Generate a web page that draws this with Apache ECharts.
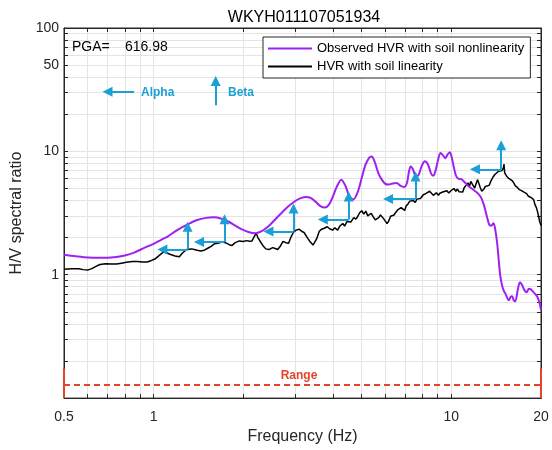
<!DOCTYPE html>
<html><head><meta charset="utf-8">
<script src="https://cdn.jsdelivr.net/npm/echarts@6/dist/echarts.min.js"></script>
<style>html,body{margin:0;padding:0;background:#fff}#c{width:552px;height:450px}</style>
</head><body><div id="c"></div>
<script>
const titleText = 'WKYH011107051934';
const pgaLabel = 'PGA=';
const pgaValue = '616.98';
const seriesNames = ['Observed HVR with soil nonlinearity', 'HVR with soil linearity'];

const freqNonlin = [0.50,0.55,0.60,0.65,0.70,0.75,0.80,0.86,0.93,1.00,1.06,1.11,1.20,1.31,1.40,1.50,1.59,1.68,1.78,1.88,1.98,2.08,2.19,2.30,2.42,2.55,2.70,2.85,3.00,3.12,3.25,3.38,3.50,3.62,3.76,3.88,4.00,4.12,4.27,4.40,4.55,4.69,4.85,5.00,5.15,5.30,5.40,5.52,5.68,5.84,6.00,6.15,6.35,6.55,6.75,6.95,7.10,7.20,7.30,7.42,7.60,7.75,7.95,8.15,8.35,8.55,8.70,8.85,9.05,9.20,9.40,9.55,9.70,9.88,10.0,10.15,10.35,10.55,10.8,11.1,11.4,11.7,12.0,12.3,12.6,12.85,13.1,13.4,13.6,13.85,14.05,14.25,14.45,14.6,14.8,15.0,15.2,15.45,15.6,15.8,16.0,16.2,16.4,16.7,17.0,17.3,17.6,17.9,18.2,18.5,18.8,19.1,19.4,19.7,20.0];
const hvrNonlin = [1.45,1.41,1.38,1.37,1.37,1.39,1.43,1.51,1.65,1.78,1.92,2.03,2.30,2.58,2.78,2.89,2.92,2.86,2.70,2.50,2.33,2.22,2.17,2.25,2.45,2.78,3.20,3.62,3.98,4.18,4.27,4.18,3.90,3.62,3.50,3.70,4.30,5.15,5.90,5.30,4.30,4.08,4.70,6.10,7.80,8.90,9.10,8.30,6.70,5.90,5.45,5.38,5.50,5.55,5.25,5.15,5.60,6.80,7.55,7.20,6.30,6.40,7.60,8.30,7.80,6.60,6.35,7.00,8.80,9.70,9.20,8.80,9.40,9.85,9.20,7.80,6.40,6.00,5.95,5.60,5.25,5.00,4.77,4.55,4.20,3.70,3.10,2.55,2.50,2.62,2.30,1.80,1.25,0.98,0.82,0.74,0.70,0.64,0.62,0.66,0.67,0.62,0.61,0.75,0.87,0.82,0.75,0.72,0.77,0.76,0.73,0.70,0.67,0.61,0.52];

const freqLin = [0.50,0.53,0.56,0.58,0.60,0.62,0.64,0.66,0.69,0.72,0.75,0.78,0.81,0.85,0.88,0.92,0.95,0.98,1.01,1.04,1.08,1.11,1.14,1.18,1.22,1.25,1.29,1.34,1.37,1.40,1.44,1.48,1.52,1.56,1.60,1.64,1.70,1.74,1.79,1.83,1.88,1.94,2.00,2.05,2.10,2.14,2.18,2.21,2.24,2.28,2.33,2.38,2.44,2.51,2.56,2.61,2.67,2.72,2.78,2.84,2.90,2.95,3.01,3.08,3.14,3.20,3.29,3.36,3.43,3.48,3.53,3.60,3.67,3.74,3.83,3.90,3.99,4.06,4.15,4.22,4.32,4.38,4.46,4.52,4.60,4.70,4.78,4.85,4.92,5.00,5.08,5.16,5.24,5.30,5.38,5.46,5.55,5.62,5.70,5.78,5.84,5.92,6.00,6.08,6.15,6.25,6.33,6.42,6.50,6.60,6.70,6.78,6.88,6.97,7.05,7.15,7.25,7.35,7.45,7.56,7.66,7.76,7.87,7.95,8.05,8.20,8.32,8.45,8.55,8.70,8.80,8.90,9.05,9.15,9.27,9.40,9.52,9.66,9.80,9.95,10.06,10.2,10.35,10.48,10.62,10.75,10.92,11.05,11.2,11.37,11.5,11.62,11.85,11.98,12.1,12.25,12.34,12.5,12.65,12.86,13.0,13.2,13.39,13.6,13.8,14.0,14.2,14.4,14.6,14.8,14.95,15.02,15.1,15.3,15.5,15.7,15.99,16.2,16.4,16.66,16.9,17.2,17.59,17.9,18.1,18.32,18.6,18.9,19.09,19.3,19.5,19.61,19.8,20.0];
const hvrLin = [1.11,1.12,1.12,1.10,1.09,1.12,1.17,1.21,1.23,1.22,1.22,1.24,1.26,1.28,1.28,1.27,1.27,1.30,1.34,1.42,1.53,1.50,1.46,1.42,1.40,1.50,1.60,1.62,1.60,1.58,1.56,1.58,1.64,1.70,1.78,1.80,1.84,1.82,1.76,1.72,1.82,1.88,1.86,1.89,1.87,1.88,2.05,2.17,2.00,1.86,1.72,1.62,1.60,1.66,1.63,1.60,1.72,1.86,1.82,1.80,2.05,2.21,2.30,2.34,2.25,2.20,1.98,1.84,1.74,1.80,1.96,2.25,2.34,2.38,2.45,2.36,2.30,2.40,2.30,2.48,2.60,2.48,2.70,2.78,2.68,2.90,2.82,2.98,3.18,3.30,3.10,3.28,3.00,2.92,3.15,2.96,2.78,2.74,2.90,3.05,3.10,2.85,2.72,2.60,2.70,2.98,2.90,3.05,3.20,3.35,3.28,3.50,3.40,3.32,3.60,3.75,3.95,3.85,4.00,3.85,4.10,4.25,4.15,4.30,4.45,4.55,4.40,4.75,4.60,4.40,4.55,4.62,4.40,4.58,4.45,4.70,4.55,4.80,4.60,4.78,4.62,5.00,4.75,4.95,4.70,4.85,4.68,5.10,5.30,5.55,5.20,5.70,5.25,5.05,5.45,5.90,5.85,5.10,4.75,4.95,5.20,5.05,5.30,5.80,6.20,6.50,6.70,6.90,6.95,7.00,7.30,7.90,6.70,6.35,6.10,6.20,5.80,5.55,5.25,5.10,4.90,4.80,4.65,4.55,4.35,4.40,4.20,4.05,3.70,3.50,3.20,3.10,2.70,2.50];

// blue arrows: corner [freq, ratio], alpha tip freq, beta tip ratio
const arrowCornerFreq = [1.30, 1.73, 2.95, 4.52, 7.58, 14.7];
const arrowCornerHvr = [1.60, 1.84, 2.24, 2.80, 4.12, 7.15];
const alphaTipFreq = [1.07, 1.42, 2.43, 3.70, 6.13, 12.0];
const betaTipHvr = [2.45, 2.82, 3.45, 4.30, 6.25, 11.2];

// annotation key arrows (data coords)
const keyAlpha = [[0.86, 30.4], [0.70, 30.4]];
const keyBeta = [[1.616, 23.7], [1.616, 37.2]];

// range bar
const rangeFreq = [0.5, 20];
const rangeLevel = 0.128;
const rangeBarLow = 0.1, rangeBarHigh = 0.174;

const xTickLabels = [0.5, 1, 10, 20];
const yTickLabels = [1, 10, 50, 100];
const xTicks = [0.5,0.6,0.7,0.8,0.9,1,2,3,4,5,6,7,8,9,10,20];
const yTicks = [0.1,0.2,0.3,0.4,0.5,0.6,0.7,0.8,0.9,1,2,3,4,5,6,7,8,9,10,20,30,40,50,60,70,80,90,100];

const FONT = '"Liberation Sans", Arial, Helvetica, sans-serif';
const AX = '#262626';
const CYAN = '#1a9fd6';
const RED = '#e5432b';

const zip = (a, b) => a.map((v, i) => [v, b[i]]);

const chart = echarts.init(document.getElementById('c'), null, {renderer: 'canvas'});

function axisX(pos, main) {
  return {
    type: 'log', logBase: 10, min: 0.5, max: 20, position: pos,
    axisLine: {show: true, onZero: false, lineStyle: {color: AX, width: 1}},
    axisTick: {show: true, inside: true, length: 4, customValues: xTicks, lineStyle: {color: AX}},
    axisLabel: main ? {show: true, customValues: xTickLabels, fontSize: 14, color: AX, fontFamily: FONT, margin: 12,
      formatter: v => String(+v.toPrecision(6))} : {show: false},
    splitLine: {show: main, lineStyle: {color: '#e4e4e4', width: 1}},
    minorTick: {show: false}, minorSplitLine: {show: false},
    name: main ? 'Frequency (Hz)' : '', nameLocation: 'middle', nameGap: 29,
    nameTextStyle: {fontSize: 16, color: AX, fontFamily: FONT}
  };
}
function axisY(pos, main) {
  return {
    type: 'log', logBase: 10, min: 0.1, max: 100, position: pos,
    axisLine: {show: true, onZero: false, lineStyle: {color: AX, width: 1}},
    axisTick: {show: true, inside: true, length: 4, customValues: yTicks, lineStyle: {color: AX}},
    axisLabel: main ? {show: true, customValues: yTickLabels, fontSize: 14, color: AX, fontFamily: FONT, margin: 5,
      formatter: v => String(+v.toPrecision(6))} : {show: false},
    splitLine: {show: main, lineStyle: {color: '#e4e4e4', width: 1}},
    minorTick: {show: false}, minorSplitLine: {show: false},
    name: main ? 'H/V spectral ratio' : '', nameLocation: 'middle', nameGap: 27,
    nameTextStyle: {fontSize: 16, color: AX, fontFamily: FONT}
  };
}

const arrowData = [];
arrowCornerFreq.forEach((f, i) => {
  arrowData.push({coords: [[f, arrowCornerHvr[i]], [alphaTipFreq[i], arrowCornerHvr[i]]]});
  arrowData.push({coords: [[f, arrowCornerHvr[i]], [f, betaTipHvr[i]]]});
});
arrowData.push({coords: keyAlpha});
arrowData.push({coords: keyBeta});

chart.setOption({
  animation: false,
  backgroundColor: '#fff',
  grid: {left: 64, right: 11, top: 28, bottom: 46, show: true, borderColor: AX, borderWidth: 1, backgroundColor: '#fff'},
  xAxis: [axisX('bottom', true), axisX('top', false)],
  yAxis: [axisY('left', true), axisY('right', false)],
  legend: {
    data: seriesNames, orient: 'vertical', left: 263, top: 37,
    icon: 'path://M0,0L44,0L44,2L0,2Z',
    backgroundColor: '#fff', borderColor: AX, borderWidth: 1, borderRadius: 0,
    padding: [5, 6, 5, 5], itemWidth: 44, itemHeight: 14, itemGap: 5,
    textStyle: {fontSize: 13, color: '#000', fontFamily: FONT}
  },
  graphic: [
    {type: 'text', style: {text: titleText, x: 304, y: 18, font: '16px ' + FONT, fill: '#000', textAlign: 'center', textVerticalAlign: 'middle'}, z: 10},
    {type: 'text', style: {text: pgaLabel, x: 72, y: 47, font: '14px ' + FONT, fill: '#000', textAlign: 'left', textVerticalAlign: 'middle'}, z: 10},
    {type: 'text', style: {text: pgaValue, x: 125, y: 47, font: '14px ' + FONT, fill: '#000', textAlign: 'left', textVerticalAlign: 'middle'}, z: 10},
    {type: 'text', style: {text: 'Alpha', x: 141, y: 92.5, font: 'bold 12px ' + FONT, fill: CYAN, textAlign: 'left', textVerticalAlign: 'middle'}, z: 10},
    {type: 'text', style: {text: 'Beta', x: 228, y: 92.5, font: 'bold 12px ' + FONT, fill: CYAN, textAlign: 'left', textVerticalAlign: 'middle'}, z: 10},
    {type: 'text', style: {text: 'Range', x: 299, y: 376, font: 'bold 12px ' + FONT, fill: RED, textAlign: 'center', textVerticalAlign: 'middle'}, z: 10}
  ],
  series: [
    {
      name: seriesNames[1], type: 'line', data: zip(freqLin, hvrLin), showSymbol: false, symbol: 'none',
      lineStyle: {color: '#000', width: 1.5}, itemStyle: {color: '#000'}, z: 3, clip: true
    },
    {
      name: seriesNames[0], type: 'line', data: zip(freqNonlin, hvrNonlin), showSymbol: false, symbol: 'none', smooth: 0.3,
      lineStyle: {color: '#a020f0', width: 2}, itemStyle: {color: '#a020f0'}, z: 4, clip: true
    },
    {
      type: 'lines', coordinateSystem: 'cartesian2d', polyline: false, silent: true, z: 6,
      symbol: ['none', 'triangle'], symbolSize: 10,
      lineStyle: {color: CYAN, width: 2, opacity: 1},
      data: arrowData
    },
    {
      type: 'lines', coordinateSystem: 'cartesian2d', silent: true, z: 5, symbol: 'none',
      lineStyle: {color: RED, width: 2, type: [6, 4], opacity: 1},
      data: [{coords: [[rangeFreq[0], rangeLevel], [rangeFreq[1], rangeLevel]]}]
    },
    {
      type: 'lines', coordinateSystem: 'cartesian2d', silent: true, z: 5, symbol: 'none',
      lineStyle: {color: RED, width: 2, opacity: 1},
      data: rangeFreq.map(f => ({coords: [[f, rangeBarLow], [f, rangeBarHigh]]}))
    }
  ]
});
</script></body></html>
